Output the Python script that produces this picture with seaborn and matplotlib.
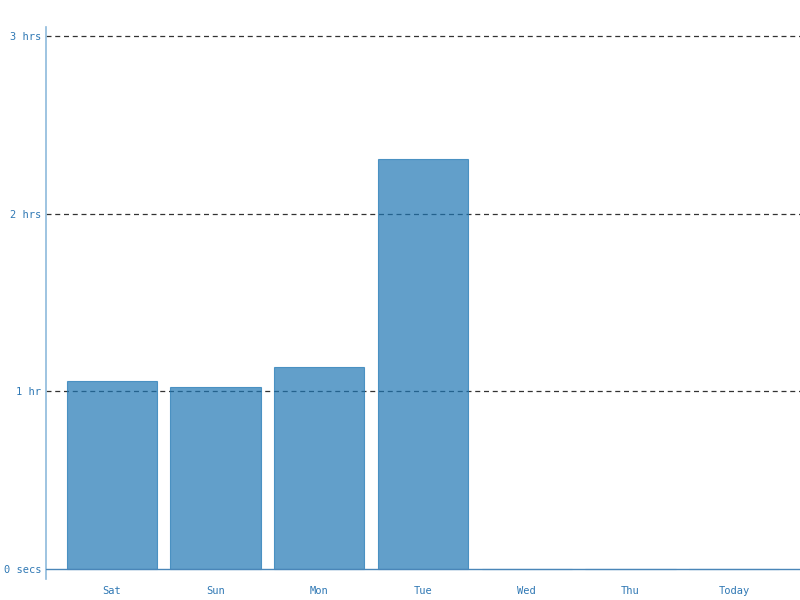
import matplotlib
matplotlib.use("Agg")
import matplotlib.pyplot as plt
import seaborn as sns
import pandas as pd

days = ["Sat", "Sun", "Mon", "Tue", "Wed", "Thu", "Today"]
hours = [1.058, 1.024, 1.137, 2.308, 0.0, 0.0, 0.0]
ytick_vals = [0, 1, 2, 3]
ytick_labels = ["0 secs", "1 hr", "2 hrs", "3 hrs"]

sns.set_style("white")
plt.rcParams["font.family"] = ["DejaVu Sans Mono", "DejaVu Sans"]

df = pd.DataFrame({"day": days, "hours": hours})

fig = plt.figure(figsize=(8, 6), dpi=100)
ax = fig.add_axes([46 / 800, 1 - 579 / 600, 1 - 46 / 800, (579 - 27) / 600])

sns.barplot(data=df, x="day", y="hours", order=days, ax=ax,
            color="#1f77b4", saturation=1, width=0.87, alpha=0.7,
            edgecolor="#1f77b4", linewidth=0.8, zorder=2)

# gridlines (beneath translucent bars)
for v in ytick_vals[1:]:
    ax.axhline(v, color="#333333", linestyle=(0, (4, 3)), linewidth=0.9, zorder=1)
ax.axhline(0, color="#4a86b8", linewidth=1.0, zorder=5)

ax.set_xlim(-0.635, 6.635)
ax.set_ylim(-10 / 177.67, 3 + 9 / 177.67)
ax.set_yticks(ytick_vals)
ax.set_yticklabels(ytick_labels)
ax.set_xlabel("")
ax.set_ylabel("")

ax.tick_params(axis="both", length=0, labelsize=7.5, labelcolor="#2f78b4")
ax.tick_params(axis="y", pad=3.5)
ax.tick_params(axis="x", pad=5)

for s in ["top", "right", "bottom"]:
    ax.spines[s].set_visible(False)
ax.spines["left"].set_color("#8dbadb")
ax.spines["left"].set_linewidth(1.2)

fig.savefig("out.png", dpi=100)
